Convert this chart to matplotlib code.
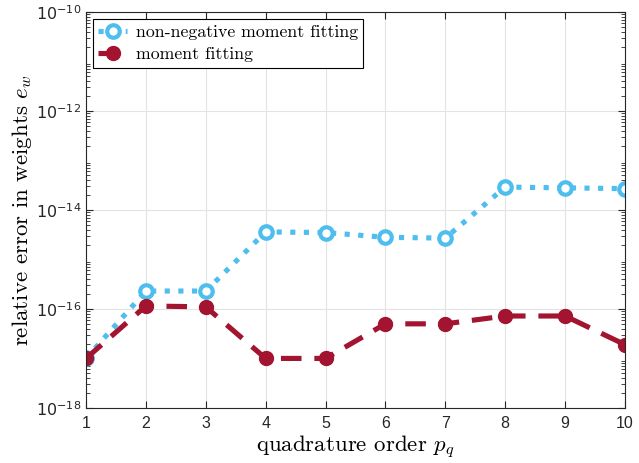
import numpy as np
import matplotlib
matplotlib.use('Agg')
import matplotlib.pyplot as plt
from matplotlib.ticker import LogLocator

plt.rcParams['mathtext.fontset'] = 'cm'
plt.rcParams['axes.unicode_minus'] = False

orders = [1, 2, 3, 4, 5, 6, 7, 8, 9, 10]
nonneg_err = [1.0e-17, 2.3e-16, 2.3e-16, 3.6e-15, 3.5e-15, 2.8e-15, 2.7e-15, 2.9e-14, 2.8e-14, 2.7e-14]
moment_err = [1.0e-17, 1.15e-16, 1.1e-16, 1.0e-17, 1.0e-17, 5.0e-17, 5.0e-17, 7.2e-17, 7.2e-17, 1.9e-17]
y_exps = [-18, -16, -14, -12, -10]

blue = '#4DBEEE'
red = '#A2142F'
axc = '#262626'
cmfont = 'cmr10'
tickfont = 'Liberation Sans'

fig = plt.figure(figsize=(6.39, 4.63), dpi=100)
ax = fig.add_axes([0.1346, 0.119, 0.8434, 0.855])

ax.plot(orders, nonneg_err, ':', color=blue, lw=3.7, marker='o', ms=9,
        mfc='white', mec=blue, mew=3, label='non-negative moment fitting')
ax.plot(orders, moment_err, '--', color=red, lw=3.7, marker='o', ms=10,
        mfc=red, mec=red, dashes=(4, 2.5), label='moment fitting')

ax.set_yscale('log')
ax.set_xlim(1, 10)
ax.set_ylim(1e-18, 1e-10)
ax.set_xticks(orders)
ax.set_xticklabels([str(o) for o in orders], fontfamily=tickfont)
ax.set_yticks([10.0 ** e for e in y_exps])
ax.set_yticklabels([r'$10^{%d}$' % e for e in y_exps], fontfamily=tickfont,
                   math_fontfamily='dejavusans')
ax.yaxis.set_minor_locator(LogLocator(base=10, subs=np.arange(2, 10), numticks=20))

ax.tick_params(which='both', direction='in', top=True, right=True, colors=axc, labelsize=11.5)
ax.tick_params(which='major', length=5)
ax.tick_params(which='minor', length=3)
ax.tick_params(axis='x', pad=6)
ax.grid(True, which='major', color='#e3e3e3', lw=0.8)
ax.set_axisbelow(True)
for s in ax.spines.values():
    s.set_color(axc)
    s.set_linewidth(0.8)

ax.set_xlabel(r'quadrature order $p_q$', fontsize=16.5, fontfamily=cmfont, labelpad=2)
ax.set_ylabel(r'relative error in weights $e_w$', fontsize=16.5, fontfamily=cmfont, labelpad=1)

leg = ax.legend(loc='upper left', prop={'family': cmfont, 'size': 12.8}, fancybox=False,
                framealpha=1, edgecolor='black', borderaxespad=0.4, handlelength=1.6,
                borderpad=0.3, labelspacing=0.4, handletextpad=0.5)
leg.get_frame().set_linewidth(0.8)

fig.savefig('out.png', dpi=100)
